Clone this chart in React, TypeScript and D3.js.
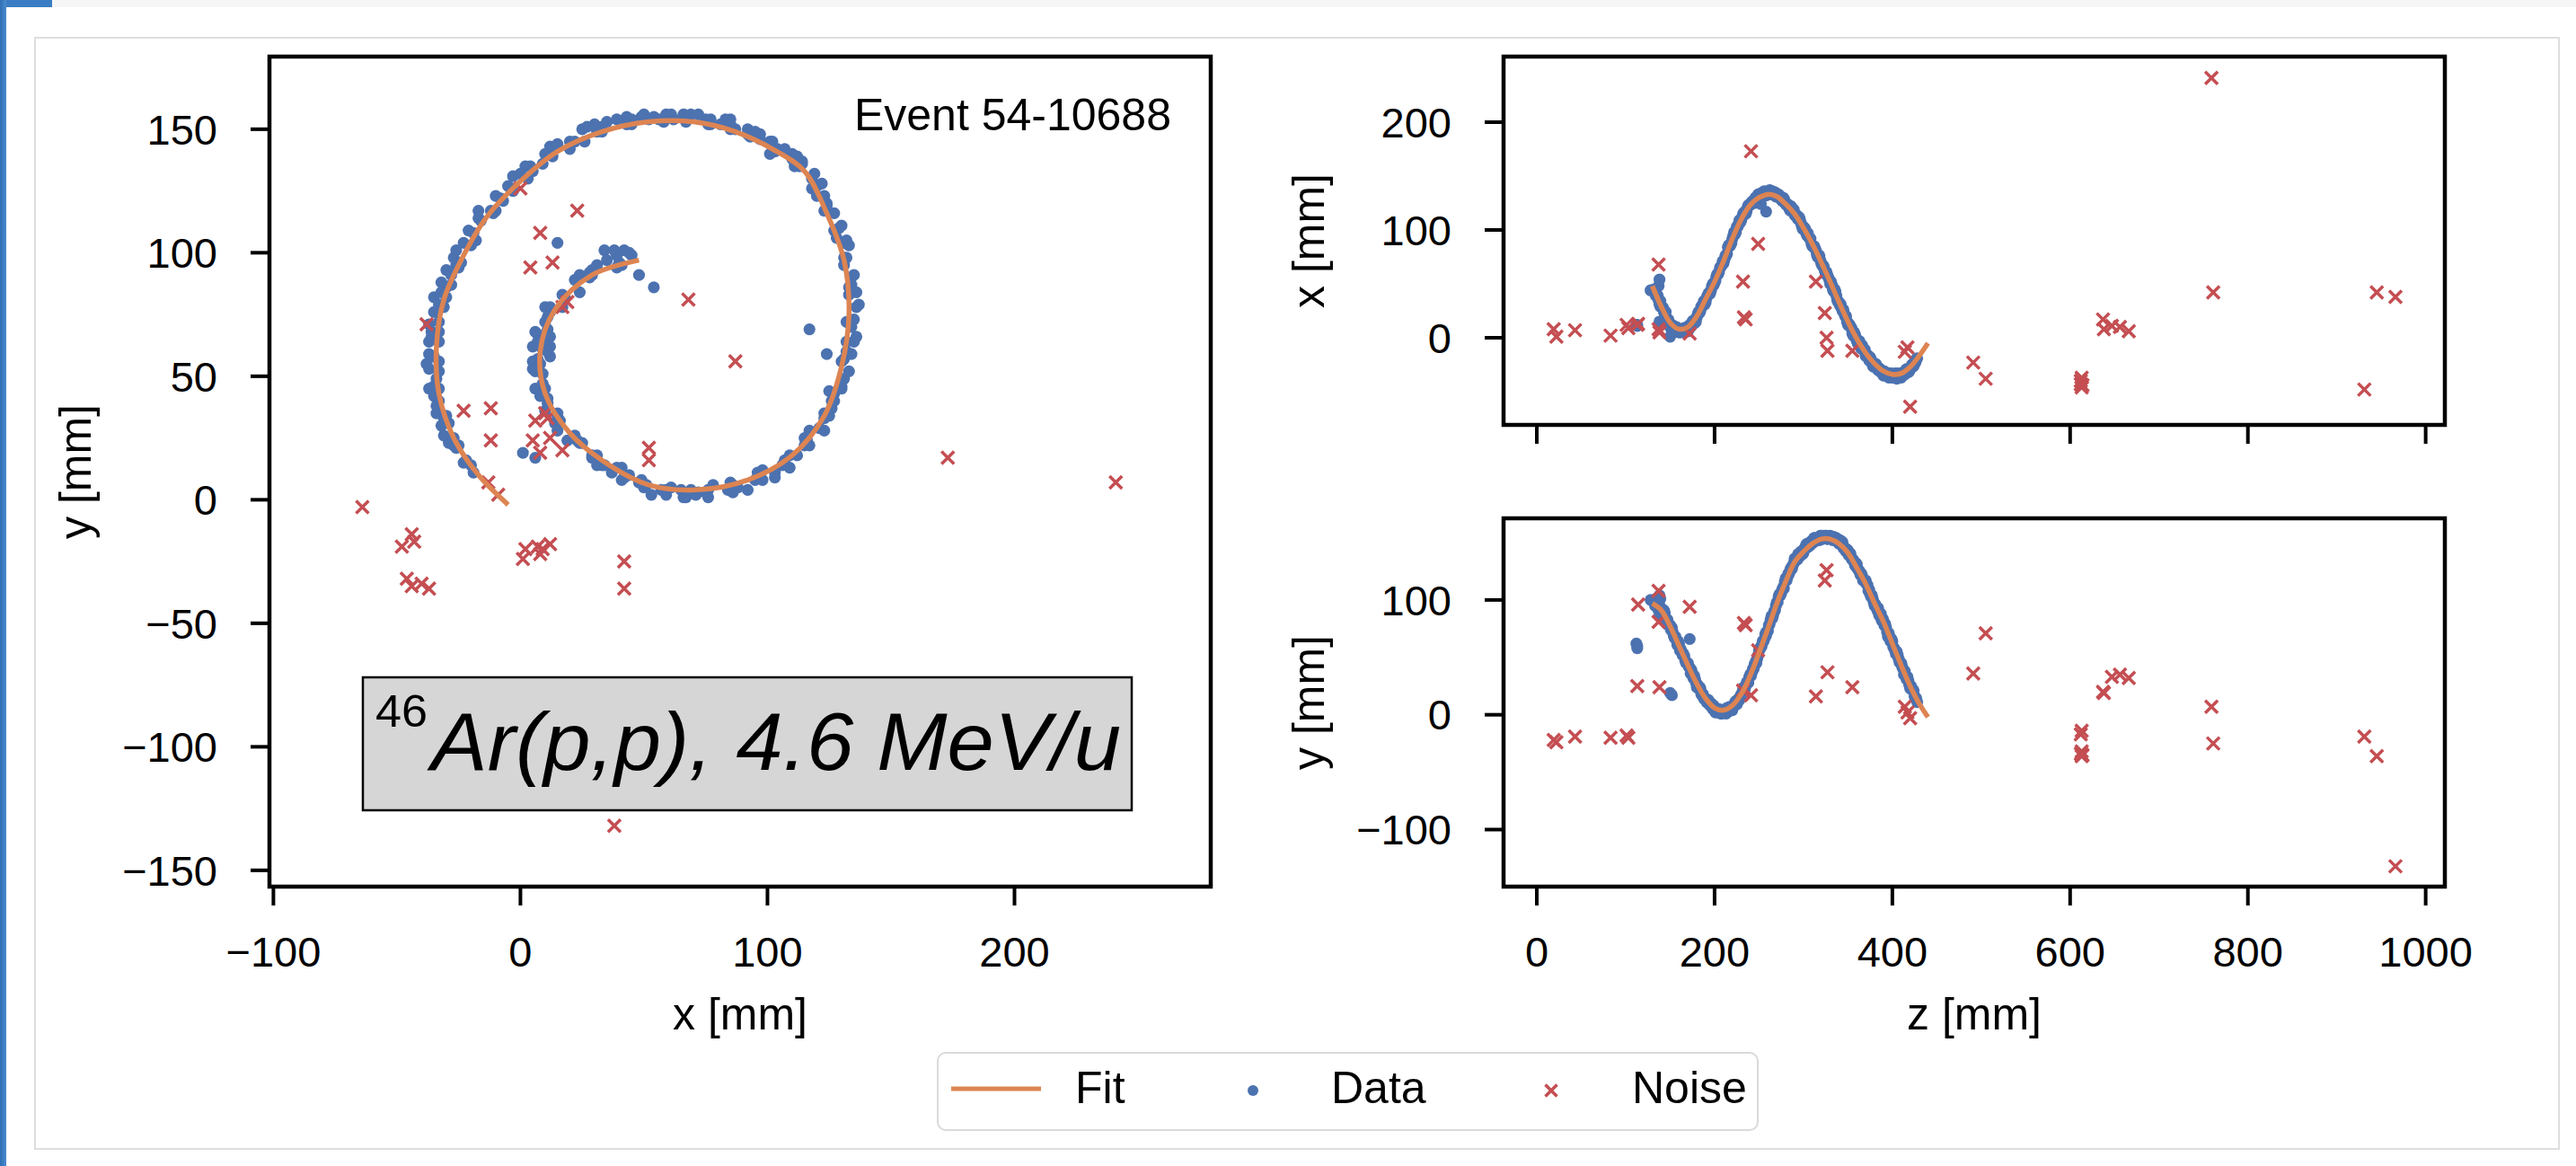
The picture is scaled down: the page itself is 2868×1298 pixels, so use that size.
import React from "react";
import * as d3 from "d3";

// ---------- data (mm) ----------
// Fit curve samples
const fitZ = [130,140,150,160,170,180,190,200,210,220,230,240,250,260,270,280,290,300,310,320,330,340,350,360,370,380,390,400,410,420,430,440];
const fitX = [48,29,14,8,10,20,36,52,71,92,110,123,130,133,131,124,115,102,87,70,52,33,15,-1,-14,-24,-31,-34,-33,-27,-17,-5];
const fitY = [97,91,77,60,43,27,14,6,4,8,18,34,54,75,97,116,133,142,149,153,153,149,141,128,114,97,81,62,43,25,10,-2];

// Track hits ("Data"), first pass along the track
const dataZ = [
  132,134,136,138,140,142,144,146,148,150,
  152,154,156,158,160,162,164,166,168,170,
  172,174,176,178,180,182,184,186,188,190,
  192,194,196,198,200,202,204,206,208,210,
  212,214,216,218,220,222,224,226,228,230,
  232,234,236,238,240,242,244,246,248,250,
  252,254,256,258,260,262,264,266,268,270,
  272,274,276,278,280,282,284,286,288,290,
  292,294,296,298,300,302,304,306,308,310,
  312,314,316,318,320,322,324,326,328,330,
  332,334,336,338,340,342,344,346,348,350,
  352,354,356,358,360,362,364,366,368,370,
  372,374,376,378,380,382,384,386,388,390,
  392,394,396,398,400,402,404,406,408,410,
  412,414,416,418,420,422,424,426,428,
  128,134,136,139,137,138,138,112,113,113,150,152,172,258,252,245
];
const dataX = [
  45,39,39,31,29,28,22,18,17,10,
  12,11,6,9,5,7,6,9,8,6,
  11,11,16,14,19,24,25,29,34,33,
  39,42,44,50,51,57,59,65,67,69,
  76,78,86,86,92,98,98,103,109,109,
  115,117,117,123,123,126,126,130,131,130,
  134,132,136,132,135,137,133,134,135,131,
  133,131,127,129,124,124,120,122,118,114,
  114,110,110,104,103,101,95,93,92,85,
  85,81,75,76,69,67,62,61,56,50,
  49,43,43,35,33,31,25,22,20,12,
  12,9,2,3,-3,-4,-8,-7,-12,-17,
  -16,-21,-20,-26,-26,-25,-30,-30,-30,-35,
  -33,-33,-37,-33,-37,-35,-37,-33,-35,-37,
  -33,-34,-29,-32,-29,-25,-26,-23,-19,
  44,42,38,34,48,54,15,12,12,11,1,6,12,117,124,127
];
const dataY = [
  99,99,94,95,91,90,89,82,78,78,
  76,69,68,61,62,57,52,51,45,45,
  41,39,32,31,24,23,23,17,14,14,
  13,9,10,5,6,4,2,4,1,4,
  4,6,3,6,4,8,12,11,13,18,
  22,22,28,28,35,37,40,46,49,56,
  59,64,66,72,73,79,86,87,91,98,
  103,104,109,110,119,120,123,128,130,136,
  137,140,138,142,141,145,149,147,148,152,
  154,152,154,152,156,155,154,156,154,156,
  155,155,152,153,149,149,150,145,142,143,
  141,136,135,130,131,126,122,121,117,117,
  113,109,103,101,95,94,93,86,82,82,
  79,72,71,64,64,58,53,52,46,45,
  40,38,31,30,23,22,21,15,11,
  100,101,101,101,91,86,104,62,58,60,19,17,66,69,59,43
];

// Track hits, second pass (in-between hits)
const dataZ2 = [
  133,135,137,139,141,143,145,147,149,151,
  153,155,157,159,161,163,165,167,169,171,
  173,175,177,179,181,183,185,187,189,191,
  193,195,197,199,201,203,205,207,209,211,
  213,215,217,219,221,223,225,227,229,231,
  233,235,237,239,241,243,245,247,249,251,
  253,255,257,259,261,263,265,267,269,271,
  273,275,277,279,281,283,285,287,289,291,
  293,295,297,299,301,303,305,307,309,311,
  313,315,317,319,321,323,325,327,329,331,
  333,335,337,339,341,343,345,347,349,351,
  353,355,357,359,361,363,365,367,369,371,
  373,375,377,379,381,383,385,387,389,391,
  393,395,397,399,401,403,405,407,409,411,
  413,415,417,419,421,423,425,427
];
const dataX2 = [
  41,40,35,29,28,24,24,17,12,11,
  10,7,10,7,5,8,5,9,10,8,
  10,15,15,15,22,23,29,31,31,37,
  41,41,48,49,53,59,61,66,71,72,
  76,84,85,88,95,96,103,106,107,112,
  116,115,121,123,125,127,125,130,133,131,
  132,135,134,133,136,133,136,134,131,132,
  132,128,130,127,123,123,118,120,119,113,
  111,112,107,101,102,97,97,92,87,85,
  83,77,77,72,67,66,59,58,54,52,
  45,45,39,33,30,27,26,20,15,13,
  10,4,5,0,-5,-3,-10,-10,-11,-17,
  -19,-18,-23,-27,-24,-28,-28,-32,-32,-31,
  -35,-36,-33,-36,-37,-33,-38,-34,-33,-35,
  -34,-30,-31,-31,-27,-27,-22,-20
];
const dataY2 = [
  95,96,97,93,92,91,84,83,78,74,
  72,67,65,64,56,55,53,47,45,42,
  36,35,34,28,26,24,18,18,14,11,
  13,8,7,8,2,4,5,1,2,3,
  1,4,7,5,8,11,9,14,16,18,
  24,25,29,33,34,40,44,45,52,57,
  60,64,70,72,78,83,84,90,95,98,
  105,106,111,116,117,123,126,127,132,135,
  135,139,142,140,145,148,146,150,150,150,
  154,152,154,156,153,156,156,153,155,154,
  152,154,154,151,152,151,145,145,144,139,
  140,135,133,132,127,125,123,117,116,114,
  108,105,104,98,96,91,87,88,84,78,
  76,68,68,66,59,56,55,49,45,42,
  35,34,33,26,25,22,16,14
];

// Noise hits
const noiseX = [8,1,7,2,12,9,13,12,68,8,5,4,19,17,52,173,87,52,23,0,-12,-12,-13,-9,-64,-23,-38,-44,-43,-46,-44,-40,-37,17,8,11,10,6,241,42,-48,42,38];
const noiseY = [-22,-24,-19,-20,-18,-20,96,25,81,108,24,94,80,78,21,17,56,16,117,126,37,24,7,2,-3,36,71,-14,-17,-32,-35,-34,-36,20,19,33,35,32,7,-25,-19,-36,-132];
const noiseZ = [19,22,43,83,101,103,114,113,137,137,138,172,233,235,232,241,249,314,324,326,327,355,414,417,420,491,505,613,612,613,614,612,613,637,638,647,656,666,759,761,931,945,966];

// Ticks
const xyTicksX = [-100, 0, 100, 200];
const xyTicksY = [-150, -100, -50, 0, 50, 100, 150];
const zTicks = [0, 200, 400, 600, 800, 1000];
const zxTicks = [0, 100, 200];
const zyTicks = [-100, 0, 100];

const legendItems = ["Fit", "Data", "Noise"];

// ---------- style ----------
const FONT = "'Liberation Sans', Arial, Helvetica, sans-serif";
const BLUE = "#4c72b0";
const ORANGE = "#dd8452";
const RED = "#c44e52";
const TICK_FS = 47;
const LABEL_FS = 50;
const fmt = (v: number) => (v < 0 ? "\u2212" + Math.abs(v) : String(v));

function Cross({ cx, cy, s = 7 }: { cx: number; cy: number; s?: number }) {
  return (
    <path
      d={`M${cx - s},${cy - s}L${cx + s},${cy + s}M${cx - s},${cy + s}L${cx + s},${cy - s}`}
      stroke={RED}
      strokeWidth={3.5}
      fill="none"
    />
  );
}

type Box = { x0: number; x1: number; y0: number; y1: number };

function LeftTicks({ box, scale, ticks }: { box: Box; scale: d3.ScaleLinear<number, number>; ticks: number[] }) {
  return (
    <g>
      {ticks.map((t) => (
        <g key={t}>
          <line x1={box.x0 - 21} x2={box.x0} y1={scale(t)} y2={scale(t)} stroke="#000" strokeWidth={4} />
          <text
            x={box.x0 - 58}
            y={scale(t)}
            dy="0.355em"
            textAnchor="end"
            fontSize={TICK_FS}
            fontFamily={FONT}
            fill="#000"
          >
            {fmt(t)}
          </text>
        </g>
      ))}
    </g>
  );
}

function BottomTicks({
  box,
  scale,
  ticks,
  labels,
}: {
  box: Box;
  scale: d3.ScaleLinear<number, number>;
  ticks: number[];
  labels: boolean;
}) {
  return (
    <g>
      {ticks.map((t) => (
        <g key={t}>
          <line x1={scale(t)} x2={scale(t)} y1={box.y1} y2={box.y1 + 21} stroke="#000" strokeWidth={4} />
          {labels && (
            <text x={scale(t)} y={1076} textAnchor="middle" fontSize={TICK_FS} fontFamily={FONT} fill="#000">
              {fmt(t)}
            </text>
          )}
        </g>
      ))}
    </g>
  );
}

function Frame({ box }: { box: Box }) {
  return (
    <rect
      x={box.x0}
      y={box.y0}
      width={box.x1 - box.x0}
      height={box.y1 - box.y0}
      fill="none"
      stroke="#000"
      strokeWidth={4.5}
    />
  );
}

export default function App() {
  const W = 2868;
  const H = 1298;

  const bXY: Box = { x0: 300, x1: 1348, y0: 63, y1: 987 };
  const bZX: Box = { x0: 1674, x1: 2722, y0: 63, y1: 473 };
  const bZY: Box = { x0: 1674, x1: 2722, y0: 577, y1: 987 };

  const xyX = d3.scaleLinear().domain([-101.6, 279.45]).range([bXY.x0, bXY.x1]);
  const xyY = d3.scaleLinear().domain([-156.6, 179.4]).range([bXY.y1, bXY.y0]);
  const zS = d3.scaleLinear().domain([-37.4, 1021.6]).range([bZX.x0, bZX.x1]);
  const zxY = d3.scaleLinear().domain([-80.8, 260.8]).range([bZX.y1, bZX.y0]);
  const zyY = d3.scaleLinear().domain([-149.7, 171.1]).range([bZY.y1, bZY.y0]);

  const fitIdx = fitZ.map((_, i) => i);
  const curve = d3.curveCatmullRom.alpha(0.5);
  const lineXY = d3.line<number>().x((i) => xyX(fitX[i])).y((i) => xyY(fitY[i])).curve(curve)(fitIdx) || "";
  const lineZX = d3.line<number>().x((i) => zS(fitZ[i])).y((i) => zxY(fitX[i])).curve(curve)(fitIdx) || "";
  const lineZY = d3.line<number>().x((i) => zS(fitZ[i])).y((i) => zyY(fitY[i])).curve(curve)(fitIdx) || "";

  const allZ = [...dataZ, ...dataZ2];
  const allX = [...dataX, ...dataX2];
  const allY = [...dataY, ...dataY2];
  const dIdx = allZ.map((_, i) => i);
  const nIdx = noiseZ.map((_, i) => i);

  const clip = (id: string, b: Box) => (
    <clipPath id={id}>
      <rect x={b.x0} y={b.y0} width={b.x1 - b.x0} height={b.y1 - b.y0} />
    </clipPath>
  );

  const legY = 1213;

  return (
    <svg
      width={W}
      height={H}
      viewBox={`0 0 ${W} ${H}`}
      style={{ position: "absolute", left: 0, top: 0, display: "block", background: "#fff" }}
    >
      <defs>
        {clip("cXY", bXY)}
        {clip("cZX", bZX)}
        {clip("cZY", bZY)}
        <linearGradient id="blueBar" x1="0" x2="1" y1="0" y2="0">
          <stop offset="0" stopColor="#2f6fb3" />
          <stop offset="1" stopColor="#4a8bd0" />
        </linearGradient>
      </defs>

      {/* page decoration */}
      <rect x={0} y={0} width={W} height={H} fill="#fff" />
      <rect x={0} y={0} width={W} height={8} fill="#f6f6f6" />
      <rect x={0} y={0} width={58} height={8} fill="#3b7dc4" />
      <rect x={0} y={0} width={7} height={H} fill="url(#blueBar)" />
      <rect x={39} y={42} width={2810} height={1237} fill="#fff" stroke="#dedede" strokeWidth={2} />

      {/* ---------- x-y panel ---------- */}
      <g clipPath="url(#cXY)">
        {dIdx.map((i) => (
          <circle key={"d" + i} cx={xyX(allX[i])} cy={xyY(allY[i])} r={6.6} fill={BLUE} />
        ))}
        {nIdx.map((i) => (
          <Cross key={"n" + i} cx={xyX(noiseX[i])} cy={xyY(noiseY[i])} />
        ))}
        <path d={lineXY} fill="none" stroke={ORANGE} strokeWidth={5.5} />
      </g>
      <text x={1304} y={145} textAnchor="end" fontSize={LABEL_FS} fontFamily={FONT} fill="#000">
        Event 54-10688
      </text>
      <rect x={404} y={754} width={856} height={148} fill="#d6d6d6" stroke="#000" strokeWidth={2.5} />
      <text x={418} y={809} fontSize={50} fontFamily={FONT} fill="#000" textLength={58} lengthAdjust="spacingAndGlyphs">
        46
      </text>
      <text
        x={480}
        y={857}
        fontSize={90}
        fontStyle="italic"
        fontFamily={FONT}
        fill="#000"
        textLength={768}
        lengthAdjust="spacingAndGlyphs"
      >
        Ar(p,p), 4.6 MeV/u
      </text>
      <Frame box={bXY} />
      <LeftTicks box={bXY} scale={xyY} ticks={xyTicksY} />
      <BottomTicks box={bXY} scale={xyX} ticks={xyTicksX} labels={true} />
      <text x={(bXY.x0 + bXY.x1) / 2} y={1146} textAnchor="middle" fontSize={LABEL_FS} fontFamily={FONT} fill="#000">
        x [mm]
      </text>
      <text
        transform={`translate(101,${(bXY.y0 + bXY.y1) / 2}) rotate(-90)`}
        textAnchor="middle"
        fontSize={LABEL_FS}
        fontFamily={FONT}
        fill="#000"
      >
        y [mm]
      </text>

      {/* ---------- z-x panel ---------- */}
      <g clipPath="url(#cZX)">
        {dIdx.map((i) => (
          <circle key={"d" + i} cx={zS(allZ[i])} cy={zxY(allX[i])} r={6.6} fill={BLUE} />
        ))}
        {nIdx.map((i) => (
          <Cross key={"n" + i} cx={zS(noiseZ[i])} cy={zxY(noiseX[i])} />
        ))}
        <path d={lineZX} fill="none" stroke={ORANGE} strokeWidth={5.5} />
      </g>
      <Frame box={bZX} />
      <LeftTicks box={bZX} scale={zxY} ticks={zxTicks} />
      <BottomTicks box={bZX} scale={zS} ticks={zTicks} labels={false} />
      <text
        transform={`translate(1474,${(bZX.y0 + bZX.y1) / 2}) rotate(-90)`}
        textAnchor="middle"
        fontSize={LABEL_FS}
        fontFamily={FONT}
        fill="#000"
      >
        x [mm]
      </text>

      {/* ---------- z-y panel ---------- */}
      <g clipPath="url(#cZY)">
        {dIdx.map((i) => (
          <circle key={"d" + i} cx={zS(allZ[i])} cy={zyY(allY[i])} r={6.6} fill={BLUE} />
        ))}
        {nIdx.map((i) => (
          <Cross key={"n" + i} cx={zS(noiseZ[i])} cy={zyY(noiseY[i])} />
        ))}
        <path d={lineZY} fill="none" stroke={ORANGE} strokeWidth={5.5} />
      </g>
      <Frame box={bZY} />
      <LeftTicks box={bZY} scale={zyY} ticks={zyTicks} />
      <BottomTicks box={bZY} scale={zS} ticks={zTicks} labels={true} />
      <text x={(bZY.x0 + bZY.x1) / 2} y={1146} textAnchor="middle" fontSize={LABEL_FS} fontFamily={FONT} fill="#000">
        z [mm]
      </text>
      <text
        transform={`translate(1474,${(bZY.y0 + bZY.y1) / 2}) rotate(-90)`}
        textAnchor="middle"
        fontSize={LABEL_FS}
        fontFamily={FONT}
        fill="#000"
      >
        y [mm]
      </text>

      {/* ---------- legend ---------- */}
      <rect x={1044} y={1172} width={913} height={86} rx={9} fill="#fff" stroke="#dadada" strokeWidth={2} />
      <line x1={1059} x2={1159} y1={legY - 1} y2={legY - 1} stroke={ORANGE} strokeWidth={5} />
      <circle cx={1395} cy={legY + 1} r={6} fill={BLUE} />
      <Cross cx={1727} cy={legY + 1} s={6.5} />
      {legendItems.map((t, i) => (
        <text key={t} x={[1197, 1482, 1817][i]} y={1228} fontSize={LABEL_FS} fontFamily={FONT} fill="#000">
          {t}
        </text>
      ))}
    </svg>
  );
}
